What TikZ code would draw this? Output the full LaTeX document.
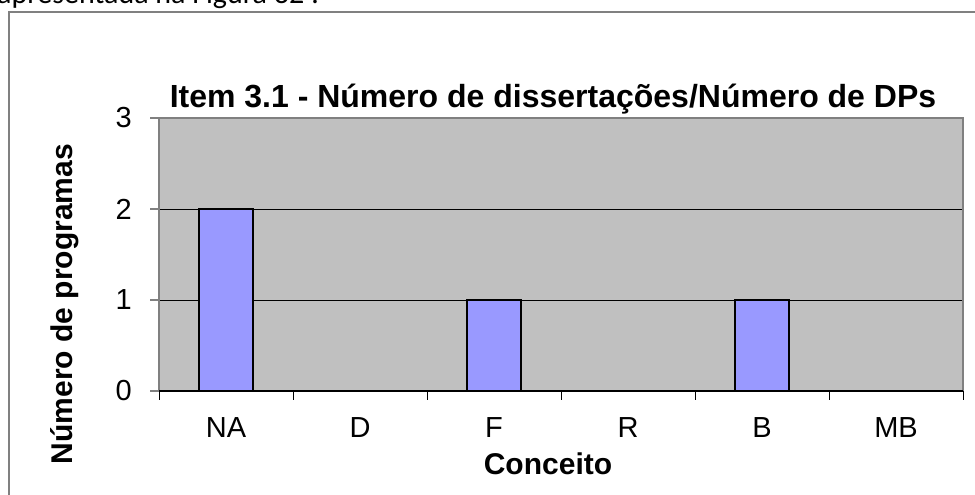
\documentclass[tikz,border=0pt]{standalone}
\usepackage{fontspec}
\setmainfont{Liberation Sans}
\newfontfamily\bodyfont{Carlito}
\definecolor{plotgray}{HTML}{C0C0C0}
\definecolor{bordergray}{HTML}{808080}
\definecolor{barblue}{HTML}{9999FF}
\begin{document}
\begin{tikzpicture}[x=1pt,y=-1pt,
  bar/.style={draw=black,line width=2pt,fill=barblue},
  ticklab/.style={inner sep=0pt,font=\fontsize{29}{34}\selectfont},
  axtitle/.style={inner sep=0pt,font=\fontsize{30}{36}\selectfont\bfseries},
  grid line/.style={draw=black,line width=1pt}]
\useasboundingbox (0,0) rectangle (975,495);
\clip (0,0) rectangle (975,495);
\fill[white] (0,0) rectangle (975,495);
% body text above the chart
\node[anchor=base west,inner sep=0pt,font=\bodyfont\fontsize{30}{36}\selectfont] (bodytext) at (-3,4) {apresentada na Figura 32 :};
% chart frame
\draw[bordergray,line width=1.5pt] (9,600) -- (9,12) -- (1100,12);
% plot area
\fill[plotgray] (159,118) rectangle (963,391);
\draw[grid line] (159,209) -- (963,209);
\draw[grid line] (159,300) -- (963,300);
\draw[bordergray,line width=2pt] (159,391) -- (159,118) -- (963,118) -- (963,391);
% y ticks and labels
\foreach \v/\y in {0/391,1/300,2/209,3/118}{
  \draw[bordergray,line width=1.2pt] (150,\y) -- (159,\y);
  \node[ticklab,anchor=east] (ylab\v) at (132,\y) {\v};
}
% bars
\draw[bar] (199,391) rectangle (253,209);
\draw[bar] (467,391) rectangle (521,300);
\draw[bar] (735,391) rectangle (789,300);
% x axis
\draw[black,line width=1.5pt] (159,391) -- (963,391);
\foreach \i in {0,...,6}{
  \draw[black,line width=1pt] ({159+134*\i},391) -- ({159+134*\i},400);
}
\foreach \lab [count=\i from 0] in {NA,D,F,R,B,MB}{
  \node[ticklab,anchor=base] (xlab\i) at ({226+134*\i},437) {\lab};
}
% titles
\node[anchor=base,inner sep=0pt,font=\fontsize{32}{38}\selectfont\bfseries] (title) at (553,107) {Item 3.1 - Número de dissertações/Número de DPs};
\node[axtitle,anchor=base] (xtitle) at (548,474) {Conceito};
\node[axtitle,rotate=90] (ytitle) at (65,304) {Número de programas};
\end{tikzpicture}
\end{document}
